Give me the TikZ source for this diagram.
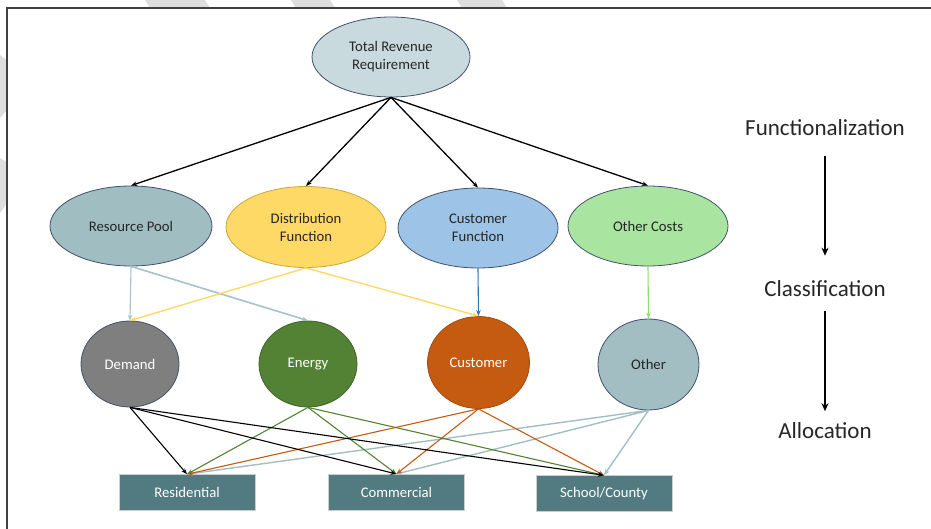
\documentclass[tikz,border=0pt]{standalone}
\usepackage{fontspec}
\setmainfont{Carlito}
\usetikzlibrary{shapes.geometric,arrows.meta}
\definecolor{edgeblue}{HTML}{41506B}
\definecolor{txtdark}{HTML}{262626}
\definecolor{trrfill}{HTML}{C9DADE}
\definecolor{rpfill}{HTML}{A0BDC2}
\definecolor{distfill}{HTML}{FFD966}
\definecolor{distedge}{HTML}{C9A73A}
\definecolor{cffill}{HTML}{9DC3E6}
\definecolor{ocfill}{HTML}{A9E5A0}
\definecolor{demfill}{HTML}{7F7F7F}
\definecolor{enfill}{HTML}{548235}
\definecolor{enedge}{HTML}{3F6427}
\definecolor{cufill}{HTML}{C55A11}
\definecolor{cuedge}{HTML}{A8490C}
\definecolor{othfill}{HTML}{A2BEC3}
\definecolor{boxfill}{HTML}{517B80}
\definecolor{boxedge}{HTML}{C9CFD0}
\definecolor{rparrow}{HTML}{A5C3C8}
\definecolor{distarrow}{HTML}{FFD966}
\definecolor{cfarrow}{HTML}{2E75B6}
\definecolor{ocarrow}{HTML}{8FDC75}
\definecolor{framec}{HTML}{404040}
\definecolor{wmark}{HTML}{DEDEDE}
\tikzset{
  nodefont/.style={font=\fontsize{14.7}{18}\selectfont},
  ell/.style={ellipse, draw=edgeblue, line width=0.8pt, inner sep=0pt, align=center, text=txtdark, nodefont},
  boxnode/.style={rectangle, draw=boxedge, fill=boxfill, line width=1pt, minimum width=136pt, minimum height=36pt, inner sep=0pt, text=white, nodefont},
  arr/.style={-{Stealth[length=6pt,width=4.5pt]}, line width=1.3pt},
  thinarr/.style={-{Stealth[length=6pt,width=4.5pt]}, line width=1.1pt},
  stage/.style={inner sep=0pt, text=txtdark, font=\fontsize{23}{26}\selectfont},
  bigarr/.style={-{Stealth[length=8pt,width=7pt]}, line width=2pt, black}
}
\begin{document}
\begin{tikzpicture}[x=1pt,y=-1pt]
\useasboundingbox (0,0) rectangle (931,529);
% watermark bands outside frame
\fill[wmark] (145,0) -- (205,0) -- (210,8) -- (150,8) -- cycle;
\fill[wmark] (291,0) -- (330,0) -- (335,8) -- (296,8) -- cycle;
\fill[wmark] (457,0) -- (502,0) -- (507,8) -- (462,8) -- cycle;
\fill[wmark] (0,55) -- (7,60) -- (7,110) -- (0,118) -- cycle;
\fill[wmark] (0,158) -- (7,162) -- (7,203) -- (0,213) -- cycle;
% frame
\draw[framec, line width=2pt] (931,8) -- (7,8) -- (7,529);

% top node
\node[ell, fill=trrfill, minimum width=158pt, minimum height=80pt] (trr) at (391,57) {Total Revenue\\Requirement};

% row 2
\node[ell, fill=rpfill, minimum width=162pt, minimum height=80pt] (rp) at (131,226) {Resource Pool};
\node[ell, fill=distfill, draw=distedge, minimum width=160pt, minimum height=81pt] (dist) at (306,227) {Distribution\\Function};
\node[ell, fill=cffill, minimum width=160pt, minimum height=80pt] (cf) at (478,228) {Customer\\Function};
\node[ell, fill=ocfill, minimum width=160pt, minimum height=80pt] (oc) at (648,226) {Other Costs};

% row 3
\node[ell, fill=demfill, text=white, minimum width=98pt, minimum height=86pt] (dem) at (130,364) {Demand};
\node[ell, fill=enfill, draw=enedge, text=white, minimum width=98pt, minimum height=86pt] (en) at (308,364) {Energy};
\node[ell, fill=cufill, draw=cuedge, text=white, minimum width=102pt, minimum height=92pt] (cu) at (478.5,362.5) {Customer};
\node[ell, fill=othfill, minimum width=101pt, minimum height=91pt] (oth) at (648.5,364.5) {Other};

% row 4
\node[boxnode] (res) at (187,492.7) {Residential};
\node[boxnode] (com) at (396.4,492.5) {Commercial};
\node[boxnode] (sch) at (604,493.8) {School/County};

% stage labels
\node[stage] (f1) at (825,128) {Functionalization};
\node[stage] (f2) at (825,289) {Classification};
\node[stage] (f3) at (825,430.5) {Allocation};
\draw[bigarr, shorten <=20pt, shorten >=25pt] (f1) -- (f2);
\draw[bigarr, shorten <=14pt, shorten >=11pt] (f2) -- (f3);

% level 1 -> 2
\draw[arr, black] (trr.south) -- (rp.north);
\draw[arr, black] (trr.south) -- (dist.north);
\draw[arr, black] (trr.south) -- (cf.north);
\draw[arr, black] (trr.south) -- (oc.north);

% level 2 -> 3
\draw[thinarr, rparrow] (rp.south) -- (dem.north);
\draw[thinarr, rparrow, line width=1.6pt] (rp.south) -- (en.north);
\draw[thinarr, distarrow, line width=1.4pt] (dist.south) -- (dem.north);
\draw[thinarr, distarrow, line width=1.4pt] (dist.south) -- (cu.north);
\draw[thinarr, cfarrow] (cf.south) -- (cu.north);
\draw[thinarr, ocarrow] (oc.south) -- (oth.north);

% level 3 -> 4
\foreach \t in {res,com,sch}{
  \draw[thinarr, othfill, line width=1.4pt] (oth.south) -- (\t.north);
}
\foreach \t in {res,com,sch}{
  \draw[thinarr, cufill] (cu.south) -- (\t.north);
}
\foreach \t in {res,com,sch}{
  \draw[thinarr, enfill] (en.south) -- (\t.north);
}
\foreach \t in {res,com,sch}{
  \draw[thinarr, black] (dem.south) -- (\t.north);
}
\end{tikzpicture}
\end{document}
